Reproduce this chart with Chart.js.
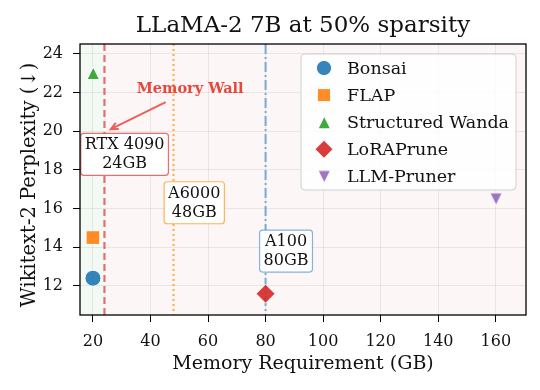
<!DOCTYPE html>
<html>
<head>
<meta charset="utf-8">
<script src="https://cdn.jsdelivr.net/npm/chart.js@4/dist/chart.umd.min.js"></script>
<style>
  html, body { margin: 0; padding: 0; background: #fff; }
  #wrap { width: 540px; height: 390px; }
</style>
</head>
<body>
<div id="wrap"><canvas id="chart"></canvas></div>
<script>
// data
const methods = ["Bonsai", "FLAP", "Structured Wanda", "LoRAPrune", "LLM-Pruner"];
const memoryGB = [20, 20, 20, 80, 160];
const perplexity = [12.4, 14.5, 23.0, 11.6, 16.5];
const gpuNames = ["RTX 4090", "A6000", "A100"];
const gpuMemory = [24, 48, 80];
const xTicks = [20, 40, 60, 80, 100, 120, 140, 160];
const yTicks = [12, 14, 16, 18, 20, 22, 24];

const FONT = "'DejaVu Serif', 'Liberation Serif', serif";

//marker look per method
const markerColors = ["rgba(31,119,180,0.9)", "rgba(255,127,14,0.9)", "rgba(44,160,44,0.9)", "rgba(214,39,40,0.9)", "rgba(148,103,189,0.9)"];

// matplotlib style triangles (as wide as tall), made as small images
function triangleMarker(color, down, size) {
  const c = document.createElement("canvas");
  const s = size + 4;
  c.width = s; c.height = s;
  const g = c.getContext("2d");
  const h = size / 2, m = s / 2;
  g.beginPath();
  if (down) {
    g.moveTo(m, m + h); g.lineTo(m - h, m - h); g.lineTo(m + h, m - h);
  } else {
    g.moveTo(m, m - h); g.lineTo(m - h, m + h); g.lineTo(m + h, m + h);
  }
  g.closePath();
  g.fillStyle = color;
  g.fill();
  g.strokeStyle = "#fff";
  g.lineWidth = 1;
  g.stroke();
  return c;
}

const markerStyles = ["circle", "rect", triangleMarker(markerColors[2], false, 12.5), "rectRot", triangleMarker(markerColors[4], true, 12.5)];
const markerRadius = [8, 9.7, 7, 9.5, 7];

// gpu line styles
const gpuColors = ["rgba(214,39,40,0.65)", "rgba(255,160,40,0.8)", "rgba(80,150,210,0.7)"];
const gpuDash = [[7, 4], [2, 3], [10, 3, 2, 3]];
// where the gpu label boxes sit (data coords)
const gpuLabelPos = [[31, 18.8], [55.2, 16.3], [87.1, 13.8]];

const datasets = methods.map((m, i) => ({
  label: m,
  data: [{ x: memoryGB[i], y: perplexity[i] }],
  backgroundColor: markerColors[i],
  borderColor: "#ffffff",
  borderWidth: 1,
  pointStyle: markerStyles[i],
  pointRadius: markerRadius[i],
  pointHoverRadius: markerRadius[i],
}));

const decor = {
  id: "decor",
  beforeDraw(chart) {
    const { ctx, chartArea: a, scales: { x } } = chart;
    const wall = x.getPixelForValue(gpuMemory[0]);
    ctx.save();
    ctx.fillStyle = "#ffffff";
    ctx.fillRect(0, 0, chart.width, chart.height);
    ctx.fillStyle = "rgba(44,160,44,0.06)";
    ctx.fillRect(a.left, a.top, wall - a.left, a.bottom - a.top);
    ctx.fillStyle = "rgba(214,39,40,0.045)";
    ctx.fillRect(wall, a.top, a.right - wall, a.bottom - a.top);
    ctx.restore();
  },
  beforeDatasetsDraw(chart) {
    const { ctx, chartArea: a, scales: { x } } = chart;
    ctx.save();
    ctx.lineWidth = 2.2;
    gpuMemory.forEach((g, i) => {
      const px = x.getPixelForValue(g);
      ctx.strokeStyle = gpuColors[i];
      ctx.setLineDash(gpuDash[i]);
      ctx.beginPath();
      ctx.moveTo(px, a.top);
      ctx.lineTo(px, a.bottom);
      ctx.stroke();
    });
    ctx.restore();
  },
  afterDraw(chart) {
    const { ctx, chartArea: a, scales: { x, y } } = chart;
    ctx.save();

    // gpu label boxes
    ctx.font = "16px " + FONT;
    ctx.textAlign = "center";
    ctx.textBaseline = "alphabetic";
    gpuNames.forEach((name, i) => {
      const cx = x.getPixelForValue(gpuLabelPos[i][0]);
      const cy = y.getPixelForValue(gpuLabelPos[i][1]);
      const lines = [name, gpuMemory[i] + "GB"];
      const w = Math.max(...lines.map(l => ctx.measureText(l).width)) + 8;
      const h = 42;
      ctx.beginPath();
      ctx.roundRect(cx - w / 2, cy - h / 2, w, h, 3);
      ctx.fillStyle = "rgba(255,255,255,0.92)";
      ctx.fill();
      ctx.setLineDash([]);
      ctx.lineWidth = 1.2;
      ctx.strokeStyle = gpuColors[i];
      ctx.stroke();
      ctx.fillStyle = "#111";
      ctx.fillText(lines[0], cx, cy - 5);
      ctx.fillText(lines[1], cx, cy + 14);
    });

    // memory wall note and arrow
    ctx.fillStyle = "#e8473c";
    ctx.font = "bold 14.5px " + FONT;
    ctx.fillText("Memory Wall", x.getPixelForValue(53.8), y.getPixelForValue(21.95));
    const sx = x.getPixelForValue(45.3), sy = y.getPixelForValue(21.5);
    const tx = x.getPixelForValue(26.2), ty = y.getPixelForValue(20.1);
    const ang = Math.atan2(ty - sy, tx - sx);
    ctx.strokeStyle = "rgba(232,71,60,0.85)";
    ctx.lineWidth = 2;
    ctx.beginPath();
    ctx.moveTo(sx, sy);
    ctx.lineTo(tx, ty);
    ctx.moveTo(tx - 8 * Math.cos(ang - 0.45), ty - 8 * Math.sin(ang - 0.45));
    ctx.lineTo(tx, ty);
    ctx.lineTo(tx - 8 * Math.cos(ang + 0.45), ty - 8 * Math.sin(ang + 0.45));
    ctx.stroke();

    // legend
    const lx = 301, ly = 54, lw = 215, lh = 136;
    ctx.beginPath();
    ctx.roundRect(lx, ly, lw, lh, 4);
    ctx.fillStyle = "rgba(255,255,255,0.85)";
    ctx.fill();
    ctx.strokeStyle = "#d0d0d0";
    ctx.lineWidth = 1;
    ctx.stroke();
    ctx.font = "17.5px " + FONT;
    ctx.textAlign = "left";
    methods.forEach((m, i) => {
      const base = ly + 19.5 + i * 27.1;
      ctx.fillStyle = markerColors[i];
      ctx.strokeStyle = "#ffffff";
      ctx.lineWidth = 1;
      Chart.helpers.drawPoint(ctx, {
        pointStyle: markerStyles[i],
        rotation: 0,
        radius: markerRadius[i] * 0.95,
        borderWidth: 1,
      }, lx + 23, base - 5.5);
      ctx.fillStyle = "#111";
      ctx.fillText(m, lx + 46, base);
    });

    // spines
    ctx.strokeStyle = "#000";
    ctx.lineWidth = 1.3;
    ctx.strokeRect(a.left, a.top, a.right - a.left, a.bottom - a.top);

    // title
    ctx.fillStyle = "#111";
    ctx.font = "23px " + FONT;
    ctx.textAlign = "center";
    ctx.fillText("LLaMA-2 7B at 50% sparsity", (a.left + a.right) / 2, 32);

    // y axis title
    ctx.font = "19.5px " + FONT;
    ctx.translate(35, 185);
    ctx.rotate(-Math.PI / 2);
    ctx.fillText("Wikitext-2 Perplexity (\u2193)", 0, 0);
    ctx.restore();
  },
};

new Chart(document.getElementById("chart"), {
  type: "scatter",
  data: { datasets },
  plugins: [decor],
  options: {
    responsive: true,
    maintainAspectRatio: false,
    animation: false,
    layout: { padding: { top: 44, right: 14, left: 0, bottom: 0 } },
    plugins: {
      legend: { display: false },
      tooltip: { enabled: false },
    },
    scales: {
      x: {
        type: "linear",
        min: 15.5,
        max: 170.5,
        afterFit: (s) => { s.height = 75; },
        afterBuildTicks: (s) => { s.ticks = xTicks.map(v => ({ value: v })); },
        grid: { color: "rgba(0,0,0,0.07)", tickColor: "#000", tickLength: 7, lineWidth: 1 },
        border: { display: false },
        ticks: { color: "#111", font: { family: FONT, size: 16 }, padding: 10, maxRotation: 0 },
        title: { display: true, text: "Memory Requirement (GB)", color: "#111", font: { family: FONT, size: 19 }, padding: { top: 0, bottom: 15 } },
      },
      y: {
        type: "linear",
        min: 10.5,
        max: 24.5,
        afterFit: (s) => { s.width = 80; },
        afterBuildTicks: (s) => { s.ticks = yTicks.map(v => ({ value: v })); },
        grid: { color: "rgba(0,0,0,0.07)", tickColor: "#000", tickLength: 7, lineWidth: 1 },
        border: { display: false },
        ticks: { color: "#111", font: { family: FONT, size: 16 }, padding: 10 },
      },
    },
  },
});
</script>
</body>
</html>
